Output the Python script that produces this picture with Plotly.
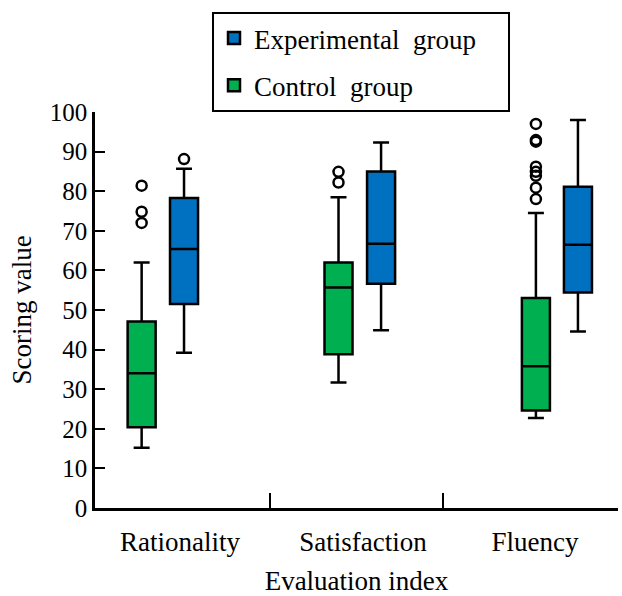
import plotly.graph_objects as go

# ---- data ----
categories = ["Rationality", "Satisfaction", "Fluency"]
series_names = ["Experimental\u00a0 group\u00a0\u00a0\u00a0\u00a0", "Control\u00a0 group"]

exp_q1 = [51.5, 56.6, 54.4]
exp_median = [65.4, 66.7, 66.5]
exp_q3 = [78.3, 85.0, 81.1]
exp_lower = [39.2, 44.9, 44.6]
exp_upper = [85.7, 92.3, 98.0]
exp_outliers = [[88.1], [], []]

ctl_q1 = [20.4, 38.8, 24.6]
ctl_median = [34.0, 55.7, 35.8]
ctl_q3 = [47.1, 62.0, 53.0]
ctl_lower = [15.2, 31.7, 22.7]
ctl_upper = [62.0, 78.5, 74.5]
ctl_outliers = [[81.4, 74.8, 72.0], [84.9, 82.2],
                [97.0, 92.9, 92.5, 86.2, 84.9, 83.9, 80.9, 78.0]]

y_ticks = [0, 10, 20, 30, 40, 50, 60, 70, 80, 90, 100]

# ---- layout constants (positions on numeric x axis) ----
exp_pos = [0.503, 1.642, 2.780]
ctl_pos = [0.258, 1.396, 2.537]
label_pos = [0.48, 1.538, 2.532]
divider_pos = [1, 2]
box_w = 0.162

W, H = 622, 596
ML, MR, MT, MB = 95, 4, 112, 88
PW = W - ML - MR
PH = H - MT - MB
x0 = -0.0116
xmax = x0 + PW / 173.0

FONT = "Liberation Serif"
BLUE = "#0070C0"
GREEN = "#00B050"

fig = go.Figure()

def add_boxes(name, pos, q1, med, q3, lo, hi, color, group):
    fig.add_trace(go.Box(
        name=name, x=pos, q1=q1, median=med, q3=q3,
        lowerfence=lo, upperfence=hi,
        width=box_w, whiskerwidth=0.57,
        fillcolor=color, line=dict(color="black", width=2.5),
        boxpoints=False, legendgroup=group, showlegend=True,
    ))

def add_outliers(pos, outs, group):
    xs, ys = [], []
    for p, o in zip(pos, outs):
        for v in o:
            xs.append(p)
            ys.append(v)
    fig.add_trace(go.Scatter(
        x=xs, y=ys, mode="markers", showlegend=False, legendgroup=group,
        marker=dict(symbol="circle-open", size=10, color="black",
                    line=dict(width=2.5, color="black")),
        hoverinfo="y",
    ))

add_boxes(series_names[0], exp_pos, exp_q1, exp_median, exp_q3,
          exp_lower, exp_upper, BLUE, "exp")
add_boxes(series_names[1], ctl_pos, ctl_q1, ctl_median, ctl_q3,
          ctl_lower, ctl_upper, GREEN, "ctl")
add_outliers(exp_pos, exp_outliers, "exp")
add_outliers(ctl_pos, ctl_outliers, "ctl")

fig.update_layout(
    width=W, height=H,
    margin=dict(l=ML, r=MR, t=MT, b=MB),
    paper_bgcolor="white", plot_bgcolor="white",
    font=dict(family=FONT, size=25, color="black"),
    legend=dict(
        x=(361 - ML) / PW, xanchor="center",
        y=1 + 100 / PH, yanchor="top",
        bgcolor="white", bordercolor="black", borderwidth=2,
        font=dict(family=FONT, size=27, color="black"),
        tracegroupgap=9, traceorder="grouped",
    ),
    xaxis=dict(
        range=[x0, xmax], tickmode="array", tickvals=label_pos,
        ticktext=categories, ticks="", showgrid=False, zeroline=False,
        showline=True, linecolor="black", linewidth=2.5,
        ticklabelstandoff=8,
        tickfont=dict(family=FONT, size=27),
        minor=dict(tickmode="array", tickvals=divider_pos, ticks="inside",
                   ticklen=15, tickwidth=2, tickcolor="black", showgrid=False),
        title=dict(text="Evaluation index", standoff=16,
                   font=dict(family=FONT, size=27)),
    ),
    yaxis=dict(
        range=[0, 100], tickmode="array", tickvals=y_ticks,
        ticks="inside", ticklen=10, tickwidth=2, tickcolor="black",
        showgrid=False, zeroline=False, showline=True,
        linecolor="black", linewidth=2.5,
        tickfont=dict(family=FONT, size=25),
        title=dict(text="Scoring value", standoff=11,
                   font=dict(family=FONT, size=27)),
    ),
)

fig.write_html("out.html")
